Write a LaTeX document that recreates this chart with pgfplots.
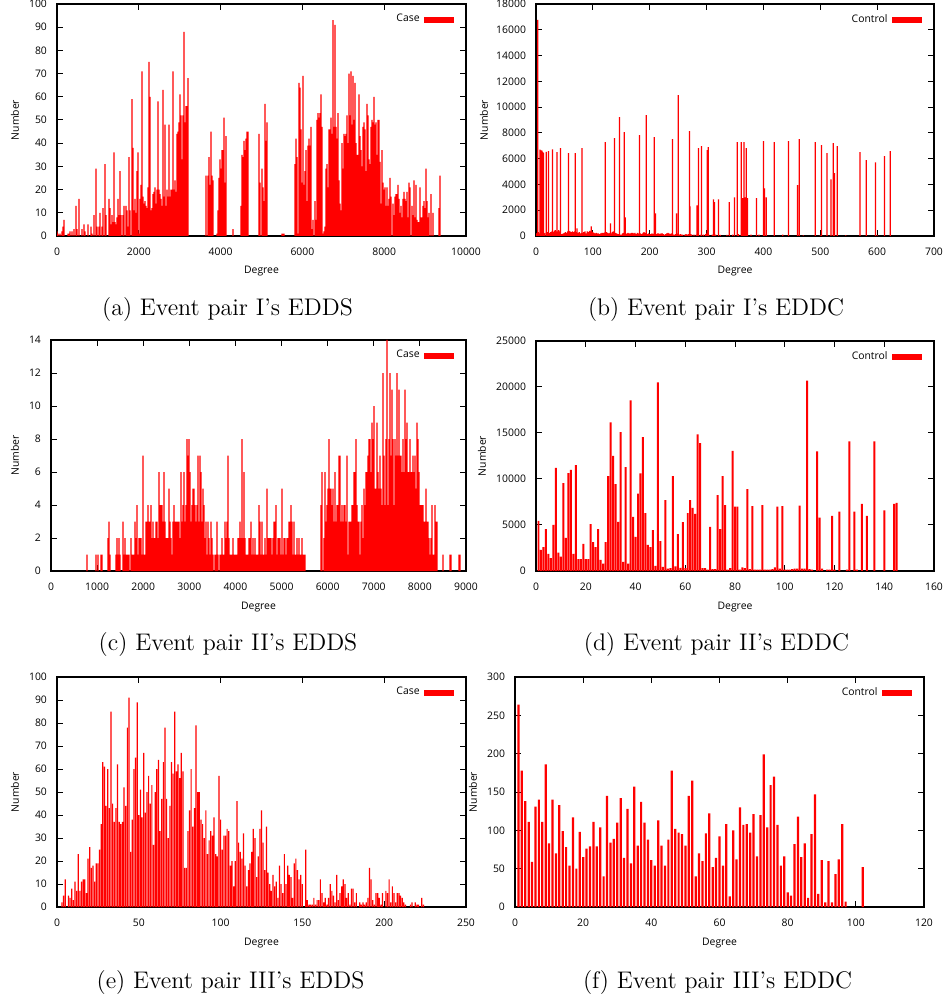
\documentclass[border=0pt]{standalone}
\usepackage{fontspec}
\setsansfont{Open Sans}
\usepackage{pgfplots}
\pgfplotsset{compat=1.18}
\pgfplotsset{
  gp/.style={
    scale only axis,
    axis line style={line width=0.6pt},
    every tick/.style={black, line width=0.5pt},
    major tick length=3pt,
    tick align=inside,
    tick label style={font=\sffamily\fontsize{5.2}{6}\selectfont},
    label style={font=\sffamily\fontsize{5.2}{6}\selectfont},
    /pgf/number format/assume math mode=true,
    /pgf/number format/1000 sep={},
    scaled ticks=false,
    xticklabel style={yshift=-2.5pt},
    yticklabel style={xshift=-1.5pt},
    legend style={draw=none, fill=none, font=\sffamily\fontsize{5.2}{6}\selectfont,
      at={(1,1)}, anchor=north east, xshift=-3pt, yshift=-1pt},
    legend plot pos=right,
    xlabel={Degree}, ylabel={Number},
  },
  gpbar/.style={ybar, bar shift=0pt, fill=red, draw=none,
    legend image code/.code={\fill[red] (0pt,-1.5pt) rectangle (15pt,1.5pt);}},
}
\begin{document}
\begin{tikzpicture}
\path[use as bounding box] (0pt,0pt) rectangle (474pt,-499.5pt);

% (a)
\begin{axis}[gp, at={(28.5pt,-2pt)}, anchor=north west, width=204.5pt, height=116pt,
  xmin=0, xmax=10000, ymin=0, ymax=100,
  xtick={0,2000,...,10000}, ytick={0,10,...,100},
  xlabel style={at={(axis description cs:0.5,-0.151)}, anchor=center},
  ylabel style={at={(axis description cs:-0.1027,0.5)}, anchor=center}]
\addplot[gpbar, bar width=31] coordinates {
(0,2)(24,1)(73,1)(122,2)(147,4)(171,7)(269,1)(293,1)(318,2)(367,2)(416,3)(465,13)(489,3)(538,16)(611,3)(660,5)(685,2)(758,5)(831,4)(856,1)(905,9)(954,29)(978,4)(1027,4)(1051,10)(1100,4)(1125,12)(1174,31)(1198,9)(1271,16)(1296,12)(1320,5)(1345,9)(1369,6)(1394,36)(1418,6)(1443,5)(1467,8)(1491,16)(1516,9)(1540,28)(1565,9)(1614,9)(1638,13)(1687,13)(1712,11)(1736,4)(1760,34)(1785,11)(1834,59)(1858,38)(1883,11)(1907,16)(1932,10)(1956,28)(1980,36)(2005,1)(2029,16)(2054,22)(2078,71)(2103,17)(2127,14)(2152,15)(2176,13)(2201,12)(2225,21)(2249,75)(2274,60)(2298,11)(2323,12)(2347,18)(2372,19)(2396,21)(2421,14)(2445,20)(2469,58)(2494,20)(2518,18)(2543,16)(2567,13)(2592,63)(2616,17)(2641,48)(2665,13)(2690,20)(2714,17)(2738,48)(2763,17)(2787,20)(2812,20)(2836,71)(2861,20)(2885,24)(2910,19)(2934,44)(2958,45)(2983,49)(3007,61)(3032,52)(3056,33)(3081,52)(3105,88)(3130,49)(3154,56)(3179,56)(3203,68)
(3643,26)(3692,26)(3716,34)(3741,22)(3765,45)(3790,26)(3814,24)(3912,1)(3936,11)(3961,25)(3985,33)(4010,29)(4034,37)(4059,37)(4083,51)(4108,23)(4132,43)(4303,3)(4499,13)(4523,35)(4548,34)(4572,41)(4597,37)(4621,42)(4646,45)(4670,45)(4939,44)(4963,23)(5012,29)(5037,21)(5061,15)(5086,57)(5110,41)(5135,49)(5501,1)(5526,1)(5550,1)
(5819,31)(5844,42)(5868,34)(5892,1)(5917,66)(5941,64)(5966,46)(5990,23)(6015,69)(6039,22)(6064,28)(6088,37)(6113,15)(6137,39)(6161,42)(6186,39)(6210,47)(6235,3)(6259,7)(6308,15)(6333,7)(6357,50)(6381,53)(6406,51)(6430,53)(6455,61)(6479,47)(6504,1)(6528,2)(6553,4)(6577,29)(6602,31)(6626,21)(6650,46)(6675,46)(6699,51)(6724,44)(6748,93)(6773,47)(6797,91)(6822,47)(6846,42)(6870,53)(6895,24)(6919,14)(6944,11)(6968,40)(6993,29)(7017,44)(7042,43)(7066,44)(7091,52)(7115,40)(7139,70)(7164,52)(7188,71)(7213,48)(7237,69)(7262,50)(7286,66)(7311,40)(7335,35)(7359,35)(7384,61)(7408,43)(7433,37)(7457,30)(7482,47)(7506,49)(7531,46)(7555,28)(7580,57)(7604,52)(7628,33)(7653,31)(7677,47)(7702,50)(7726,49)(7751,60)(7775,48)(7800,49)(7824,35)(7848,50)(7873,50)(7897,32)(7922,14)(7946,37)(7971,23)(7995,20)(8020,21)(8044,13)(8069,21)(8093,13)(8117,16)(8142,25)(8166,17)(8215,14)(8240,9)(8264,17)(8289,18)(8313,18)(8337,22)(8362,16)(8386,10)(8411,13)(8435,8)(8460,16)(8484,19)(8509,16)(8533,15)(8558,19)(8582,8)(8606,23)(8631,21)(8680,13)(8704,9)(8729,24)(8753,8)(8778,22)(8802,7)(8826,6)(8851,6)(8875,21)(8900,8)(8924,8)(8949,13)(8973,15)(8998,12)(9022,29)(9047,15)(9071,8)(9095,10)(9144,18)(9193,10)(9340,12)(9364,26)
};
\addlegendentry{Case}
\end{axis}

% (b)
\begin{axis}[gp, at={(268pt,-2pt)}, anchor=north west, width=199pt, height=116pt,
  xmin=0, xmax=700, ymin=0, ymax=18000,
  xtick={0,100,...,700}, ytick={0,2000,...,18000},
  xlabel style={at={(axis description cs:0.5,-0.151)}, anchor=center},
  ylabel style={at={(axis description cs:-0.131,0.5)}, anchor=center}]
\addplot[gpbar, bar width=2.2, forget plot] coordinates {
(0,200)(2,250)(4,300)(6,200)(14,200)(16,250)(20,300)(24,250)(26,300)(28,350)(30,300)(32,400)(34,450)(36,350)(38,350)(40,450)(42,350)(44,150)(46,150)(48,200)(50,250)(52,300)(54,250)(56,350)(58,400)(60,350)(62,300)(64,350)(66,300)(68,350)(70,300)(72,600)(74,250)(76,300)(78,200)(80,250)(82,250)(84,300)(86,350)(88,200)(90,350)(92,300)(94,400)(96,350)(97,750)(98,400)(100,300)(102,250)(104,200)(106,250)(108,200)(110,200)(112,150)(114,200)(116,250)(118,250)(120,250)(122,300)(124,300)(126,250)(128,200)(130,250)(132,200)(134,300)(136,350)(138,150)(140,250)(142,200)(144,150)(146,150)(148,100)(150,100)(152,200)(154,250)(156,200)(158,150)(160,200)(162,250)(164,200)(166,200)(168,250)(170,250)(172,200)(174,250)(176,150)(178,250)(180,200)(182,150)(184,200)(186,150)(188,250)(190,300)(192,250)(194,150)(196,150)(198,200)(200,150)(202,150)(204,200)(206,150)(208,200)(210,200)(212,150)(214,200)(216,200)(218,150)(220,200)(222,200)(224,150)(226,100)(228,150)(230,200)(232,250)(234,200)(236,150)(238,200)(240,150)(242,100)(244,100)(246,150)(248,200)(250,150)(252,100)(254,150)(256,100)(258,100)(262,100)(264,150)(266,100)(268,150)(272,150)(274,100)(278,100)(282,100)(286,100)(290,100)(294,100)(298,150)(300,200)(304,100)(310,100)(316,100)(324,80)(336,80)(346,100)(356,150)(364,100)(378,100)(392,100)(402,80)(434,100)(470,50)(500,50)(545,50)(600,50)
};
\addplot[gpbar, bar width=2.2] coordinates {
(3,16760)(7,6700)(8,6650)(9,6600)(10,6650)(11,6550)(12,6500)(13,6450)(18,6530)(22,6580)(29,6730)(37,6500)(43,6810)(57,6420)(69,6420)(81,6810)(122,7280)(131,985)(138,7590)(147,9220)(155,8055)(157,1450)(182,7820)(194,9375)(208,7670)(210,1760)(240,7510)(247,1760)(250,10930)(270,8130)(271,2300)(283,2380)(286,6810)(291,6970)(301,6660)(303,6890)(312,2850)(314,2620)(321,2850)(340,2620)(349,3000)(354,7280)(361,7280)(363,2930)(366,7280)(368,3000)(370,6810)(372,2930)(388,2930)(400,7360)(402,3700)(405,3000)(419,7280)(444,7360)(460,3940)(463,7510)(491,7280)(502,7050)(512,6420)(519,4400)(523,7200)(525,4870)(530,6970)(570,6500)(581,5880)(597,5720)(613,6190)(623,6580)
};
\addlegendentry{Control}
\end{axis}

% (c)
\begin{axis}[gp, at={(25.5pt,-170pt)}, anchor=north west, width=207.5pt, height=115.5pt,
  xmin=0, xmax=9000, ymin=0, ymax=14,
  xtick={0,1000,...,9000}, ytick={0,2,...,14},
  xlabel style={at={(axis description cs:0.5,-0.156)}, anchor=center},
  ylabel style={at={(axis description cs:-0.0867,0.5)}, anchor=center}]
\addplot[gpbar, bar width=27] coordinates {
(781,1)(976,1)(1019,1)(1085,1)(1106,1)(1236,2)(1258,3)(1280,1)(1410,1)(1432,2)(1453,1)(1475,2)(1497,1)(1562,3)(1583,1)(1605,2)(1627,1)(1648,1)(1670,1)(1692,1)
(1735,2)(1757,1)(1779,1)(1800,1)(1822,3)(1844,2)(1865,4)(1887,1)(1909,2)(1930,2)(1952,2)(1974,1)(1995,7)(2017,1)(2039,1)(2061,3)(2082,3)(2104,4)(2126,3)(2147,3)(2169,4)(2191,2)(2212,3)(2234,2)(2256,2)(2277,3)(2299,3)(2321,2)(2343,6)(2364,4)(2386,4)(2408,4)(2429,3)(2451,6)(2473,3)(2494,2)(2516,2)(2538,2)(2559,5)(2581,3)(2603,2)(2624,1)(2646,3)(2668,4)(2690,3)(2711,3)(2733,3)(2755,3)(2776,3)(2798,2)(2820,6)(2841,3)(2863,4)(2885,6)(2906,3)(2928,4)(2950,8)(2972,7)(2993,8)(3015,6)(3037,3)(3058,4)(3080,5)(3102,5)(3123,4)(3145,3)(3167,4)(3188,7)(3210,3)(3232,7)(3254,6)(3275,3)(3297,5)(3319,4)(3340,2)(3362,3)(3384,1)(3405,3)(3427,2)(3449,1)(3470,3)(3492,2)(3514,1)(3557,1)(3579,1)(3601,3)(3622,1)(3666,1)(3687,1)(3709,2)(3731,1)(3752,1)(3774,3)(3796,2)(3817,3)(3839,7)(3861,2)(3883,1)(3904,1)(3926,1)(3948,2)(3969,1)(3991,1)(4013,1)(4034,1)(4056,2)(4078,2)(4099,3)(4121,2)(4143,8)(4164,2)(4186,6)(4208,2)(4230,1)(4251,1)(4273,1)(4295,2)(4316,2)(4338,3)(4360,1)(4381,2)(4403,1)(4425,2)(4446,1)(4468,1)(4490,1)(4511,4)(4533,3)(4555,1)(4577,3)(4598,1)(4620,1)(4642,2)(4663,1)(4685,5)(4707,2)(4728,2)(4750,2)(4772,2)(4793,1)(4815,2)(4837,3)(4859,3)(4880,4)(4902,1)(4924,2)(4945,2)(4967,2)(4989,1)(5010,5)(5032,1)(5054,2)(5075,2)(5097,1)(5119,2)(5141,2)(5162,3)(5184,3)(5206,4)(5227,3)(5249,1)(5271,3)(5292,1)(5314,1)(5336,2)(5357,1)(5379,2)(5401,1)(5423,1)(5444,2)(5466,1)(5488,1)(5509,1)
(5856,4)(5878,6)(5921,2)(5943,6)(5965,3)(5986,4)(6008,5)(6030,8)(6052,5)(6073,5)(6095,4)(6117,5)(6138,3)(6160,6)(6182,3)(6203,4)(6225,4)(6247,7)(6268,7)(6290,3)(6312,4)(6333,3)(6355,4)(6377,4)(6399,3)(6420,7)(6442,1)(6464,3)(6485,3)(6507,3)(6529,4)(6550,4)(6572,6)(6594,6)(6615,8)(6637,4)(6659,3)(6681,3)(6702,1)(6724,3)(6746,4)(6767,2)(6789,5)(6811,4)(6832,6)(6854,6)(6876,7)(6897,8)(6919,8)(6941,6)(6962,9)(6984,8)(7006,10)(7028,5)(7049,5)(7071,9)(7093,6)(7114,5)(7136,7)(7158,5)(7179,4)(7201,12)(7223,7)(7244,4)(7266,8)(7288,14)(7310,4)(7331,8)(7353,12)(7375,7)(7396,11)(7418,8)(7440,4)(7461,8)(7483,7)(7505,12)(7526,7)(7548,11)(7570,7)(7592,7)(7613,6)(7635,8)(7657,6)(7678,11)(7700,8)(7722,9)(7743,6)(7765,6)(7787,8)(7808,6)(7830,6)(7852,7)(7874,6)(7895,7)(7917,5)(7939,9)(7960,8)(7982,6)(8004,4)(8025,4)(8047,4)(8069,4)(8090,3)(8112,3)(8134,5)(8155,3)(8177,3)(8199,2)(8221,1)(8242,2)(8264,4)(8286,1)(8307,1)(8329,4)(8351,3)(8372,3)(8502,1)(8654,1)(8676,1)(8850,1)(8871,1)
};
\addlegendentry{Case}
\end{axis}

% (d)
\begin{axis}[gp, at={(268pt,-170.5pt)}, anchor=north west, width=199pt, height=115pt,
  xmin=0, xmax=160, ymin=0, ymax=25000,
  xtick={0,20,...,160}, ytick={0,5000,...,25000},
  xlabel style={at={(axis description cs:0.5,-0.157)}, anchor=center},
  ylabel style={at={(axis description cs:-0.136,0.5)}, anchor=center}]
\addplot[gpbar, bar width=0.8] coordinates {
(1,5450)(2,2300)(3,2600)(4,4550)(5,1850)(6,1400)(7,5000)(8,11200)(9,2000)(10,1550)(11,9550)(12,3600)(13,10650)(14,11000)(15,1850)(16,11500)(17,1300)(18,1300)(19,2950)(20,1300)(21,1300)(22,5100)(23,3150)(24,2600)(25,4550)(26,1200)(27,800)(28,3150)(29,10300)(30,16150)(31,12500)(32,9450)(33,5350)(34,15100)(35,1000)(36,11300)(37,800)(38,18550)(39,5870)(40,3700)(41,8400)(42,10600)(43,14550)(44,6300)(45,2830)(46,2600)(47,4450)(48,550)(49,20500)(50,3250)(51,450)(52,7700)(53,250)(54,300)(55,10300)(56,500)(57,4000)(58,350)(59,5300)(60,300)(61,6300)(62,7700)(63,6850)(64,6200)(65,14850)(66,13900)(67,300)(68,300)(69,150)(70,4800)(71,200)(72,200)(73,8250)(74,4550)(75,10300)(76,7150)(77,150)(78,300)(79,13050)(80,7000)(81,7000)(82,150)(83,400)(84,300)(85,8900)(86,200)(87,7050)(88,150)(89,150)(90,150)(91,7150)(92,150)(93,150)(94,150)(95,200)(96,400)(97,7000)(98,250)(99,7050)(100,150)(101,150)(102,150)(103,200)(104,250)(105,250)(106,7100)(107,250)(108,250)(109,20700)(110,200)(111,150)(113,13000)(114,5800)(115,250)(117,150)(118,150)(119,6000)(120,150)(122,6450)(125,150)(126,14100)(128,6450)(129,150)(131,7300)(133,6000)(136,14100)(140,6600)(144,7300)(145,7400)
};
\addlegendentry{Control}
\end{axis}

% (e)
\begin{axis}[gp, at={(28.5pt,-338.5pt)}, anchor=north west, width=204.5pt, height=115pt,
  xmin=0, xmax=250, ymin=0, ymax=100,
  xtick={0,50,...,250}, ytick={0,10,...,100},
  xlabel style={at={(axis description cs:0.5,-0.157)}, anchor=center},
  ylabel style={at={(axis description cs:-0.1027,0.5)}, anchor=center}]
\addplot[gpbar, bar width=0.72] coordinates {
(3,2)(4,5)(5,12)(7,5)(8,4)(9,8)(10,3)(11,11)(12,7)(13,23)(14,7)(15,11)(16,12)(17,12)(18,6)(19,21)(20,26)(21,17)(22,18)(23,11)(24,19)(25,19)(26,25)(27,36)(28,63)(29,61)(30,44)(31,60)(32,43)(33,85)(34,45)(35,37)(36,43)(37,62)(38,37)(39,36)(40,37)(41,52)(42,44)(43,78)(44,91)(45,24)(46,38)(47,60)(48,65)(49,89)(50,40)(51,51)(52,39)(53,67)(54,41)(55,50)(56,57)(57,45)(58,53)(59,27)(60,50)(61,60)(62,64)(63,33)(64,47)(65,63)(66,78)(67,47)(68,30)(69,44)(70,63)(71,58)(72,85)(73,59)(74,62)(75,56)(76,67)(77,59)(78,17)(79,17)(80,33)(81,42)(82,60)(83,35)(84,43)(85,79)(86,50)(87,50)(88,38)(89,36)(90,30)(91,42)(92,23)(93,29)(94,33)(95,31)(96,39)(97,23)(98,22)(99,57)(100,38)(101,25)(102,31)(103,31)(104,34)(105,33)(106,18)(107,20)(108,9)(109,20)(110,46)(111,28)(112,24)(113,21)(114,32)(115,18)(116,9)(117,16)(118,19)(119,24)(120,34)(121,30)(122,13)(123,22)(124,34)(125,42)(126,28)(127,16)(128,35)(129,15)(130,10)(131,7)(132,14)(133,9)(134,11)(135,4)(136,18)(137,10)(138,6)(139,23)(140,10)(141,18)(142,14)(143,13)(144,4)(145,19)(146,21)(147,16)(148,12)(149,14)(150,10)(152,25)(153,3)(154,1)(155,1)(156,1)(157,4)(158,1)(159,3)(160,3)(161,12)(162,6)(163,2)(164,4)(165,1)(166,4)(167,10)(168,7)(169,5)(170,2)(171,14)(172,3)(173,6)(174,9)(175,12)(176,10)(177,4)(178,6)(179,1)(180,8)(181,8)(182,2)(183,6)(185,2)(186,1)(187,2)(188,1)(189,2)(190,4)(191,17)(192,12)(193,3)(194,1)(195,6)(196,6)(197,4)(198,1)(199,6)(201,7)(202,6)(203,12)(204,2)(205,9)(206,6)(207,2)(208,6)(209,6)(210,5)(211,4)(212,2)(213,1)(216,1)(217,2)(219,2)(220,1)(221,1)(223,4)(224,1)
};
\addlegendentry{Case}
\end{axis}

% (f)
\begin{axis}[gp, at={(257.5pt,-338.5pt)}, anchor=north west, width=204.5pt, height=115pt,
  xmin=0, xmax=120, ymin=0, ymax=300,
  xtick={0,20,...,120}, ytick={0,50,...,300},
  xlabel style={at={(axis description cs:0.5,-0.157)}, anchor=center},
  ylabel style={at={(axis description cs:-0.1027,0.5)}, anchor=center}]
\addplot[gpbar, bar width=0.65] coordinates {
(1,264)(2,178)(3,138)(4,111)(5,59)(6,131)(7,140)(8,111)(9,186)(10,83)(11,140)(12,70)(13,133)(14,99)(15,78)(16,54)(17,117)(18,50)(19,98)(20,65)(21,76)(22,79)(23,111)(24,79)(25,104)(26,40)(27,145)(28,84)(29,89)(30,110)(31,142)(32,64)(33,128)(34,57)(35,157)(36,80)(37,137)(38,110)(39,88)(40,61)(41,54)(42,113)(43,80)(44,54)(45,88)(46,178)(47,102)(48,97)(49,95)(50,80)(51,145)(52,165)(53,40)(54,70)(55,60)(56,96)(57,122)(58,52)(59,64)(60,92)(61,54)(62,108)(63,14)(64,100)(65,62)(66,130)(67,107)(68,108)(69,97)(70,121)(71,66)(72,120)(73,199)(74,104)(75,159)(76,170)(77,107)(78,54)(79,66)(80,19)(81,15)(82,82)(83,118)(84,65)(85,83)(86,12)(87,95)(88,147)(89,17)(90,61)(91,6)(92,60)(93,6)(94,43)(95,62)(96,108)(97,7)(102,52)
};
\addlegendentry{Control}
\end{axis}

\begin{scope}[every node/.style={font=\fontsize{12}{14}\selectfont}]
\node at (113.75pt,-155pt) {(a) Event pair I's EDDS};
\node at (358pt,-155pt) {(b) Event pair I's EDDC};
\node at (114pt,-322.5pt) {(c) Event pair II's EDDS};
\node at (358.25pt,-322.5pt) {(d) Event pair II's EDDC};
\node at (115.25pt,-491pt) {(e) Event pair III's EDDS};
\node at (358.75pt,-491pt) {(f) Event pair III's EDDC};
\end{scope}
\end{tikzpicture}
\end{document}
